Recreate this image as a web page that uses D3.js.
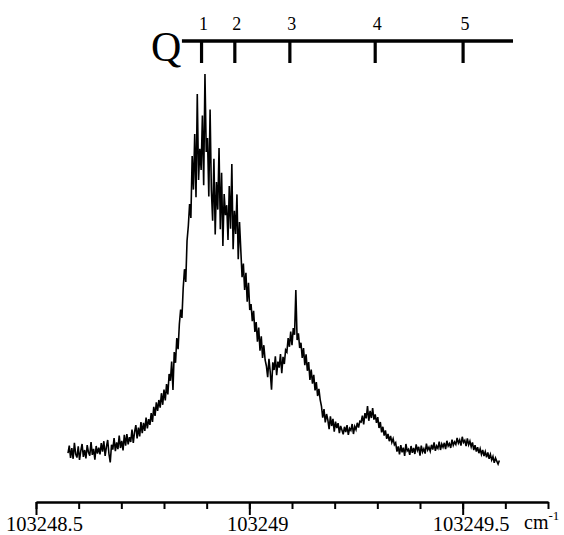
<!DOCTYPE html>
<html>
<head>
<meta charset="utf-8">
<script src="https://cdn.jsdelivr.net/npm/d3@7"></script>
<style>
  body { margin: 0; background: #fff; }
  svg { display: block; font-family: "Liberation Serif", "Times New Roman", serif; }
</style>
</head>
<body>
<div id="chart"></div>
<script>
// spectrum: evenly spaced wavenumbers, intensity in arbitrary units
var wnStart = 103248.575,
    wnStep = 0.003;
var intensity = [
  4.2, 6.1, 3.0, 5.5, 2.8, 6.8, 4.0, 3.1, 5.9, 2.5, 4.8, 6.5, 3.3, 5.0, 2.9, 6.2, 4.4, 3.6, 7.0, 3.8, 5.3, 2.6, 6.0, 4.1, 5.6,
  3.9, 6.7, 4.6, 7.2, 3.5, 5.8, 7.5, 4.0, 1.9, 6.3, 5.1, 8.0, 4.7, 6.9, 5.2, 8.6, 5.5, 7.3, 4.9, 8.8, 6.1, 9.0, 6.4, 8.2,
  7.0, 10.1, 6.8, 9.5, 11.2, 7.9, 10.6, 8.4, 12.0, 9.2, 11.8, 9.8, 13.1, 10.4, 12.7, 11.3,
  14.2, 12.0, 15.8, 13.5, 16.9, 14.8, 17.5, 15.6, 19.2, 16.3, 20.1, 17.4,
  21.5, 18.9, 24.0, 22.3, 27.1, 20.0, 29.5, 26.8, 33.0, 30.2, 36.5, 40.1,
  38.0, 45.5, 50.2, 47.0, 57.3, 61.0, 66.5,
  63.0, 78.5, 70.1, 84.0, 68.2, 94.0, 72.5, 80.3,
  75.0, 88.6, 71.2, 99.0, 79.5, 83.0, 68.4, 90.1,
  70.0, 62.3, 77.8, 58.9, 72.0, 65.1, 80.5, 60.2, 74.3, 56.0, 69.0, 63.7,
  66.2, 57.5, 71.0, 60.3, 76.5, 55.2, 64.8, 59.0, 68.9, 52.7, 62.0,
  55.0, 48.2, 51.6, 45.0, 49.3, 42.1, 46.8, 40.0,
  41.5, 37.2, 39.8, 34.5, 37.0, 32.1, 35.6, 29.8, 33.4, 28.0, 31.2, 27.5,
  26.0, 23.2, 27.8, 24.5, 20.1, 26.9, 25.0, 28.4, 23.7, 27.1, 25.6, 29.0, 24.2, 28.3, 26.5, 30.0,
  29.5, 33.0, 30.8, 34.6, 31.2, 35.5, 33.8, 45.0, 32.5, 34.2, 30.5,
  31.8, 28.0, 30.5, 26.2, 28.9, 24.8, 27.0, 22.5, 25.1, 21.6, 23.8, 19.9, 22.0, 18.5, 20.3, 17.6,
  16.0, 13.1, 15.2, 11.9, 14.0, 12.5, 10.2, 13.4, 11.0, 12.8, 9.6, 12.1, 10.5, 11.7, 9.2, 11.0, 10.0, 8.9, 10.8,
  9.5, 11.2, 8.8, 10.4, 9.9, 11.5, 9.0, 10.9, 10.1, 11.8, 10.6, 12.2,
  12.0, 13.6, 11.4, 14.2, 12.9, 16.0, 12.3, 14.8, 13.0, 15.5, 12.6, 13.9, 11.8, 13.2,
  10.5, 12.0, 9.4, 10.8, 8.6, 9.9, 7.8, 9.0, 7.2, 8.5, 6.9, 7.8, 6.3,
  6.8, 4.6, 5.9, 3.9, 6.2, 4.4, 5.6, 3.5, 6.5, 4.8, 5.2, 3.8, 6.0, 4.3, 5.5, 4.0, 6.4, 4.9, 5.8, 3.6, 6.1, 4.5, 5.3, 4.1, 6.6, 5.0, 5.7, 4.7,
  6.3, 5.1, 6.9, 4.8, 6.0, 5.4, 7.1, 5.0, 6.5, 5.7, 6.8, 5.2, 7.3, 6.0, 6.6, 5.5, 7.6, 6.2, 7.0, 6.4, 8.0, 6.7, 7.5, 6.1, 8.3, 6.9, 7.4, 6.0, 7.9, 6.3, 7.2,
  5.8, 6.9, 5.0, 6.2, 4.6, 5.7, 4.2, 5.3, 3.9, 5.0, 3.5, 4.6, 3.2, 4.4, 2.8, 3.9, 2.5, 3.4, 1.8, 3.0, 2.2, 1.5, 2.4
];

// bottom axis
var majorTicks = [103248.5, 103249, 103249.5];
var minorTicks = [103248.5, 103248.6, 103248.7, 103248.8, 103248.9, 103249, 103249.1,
                  103249.2, 103249.3, 103249.4, 103249.5, 103249.6, 103249.7];
var majorLabels = ["103248.5", "103249", "103249.5"];

// Q branch markers
var qLabels = ["1", "2", "3", "4", "5"];
var qPositions = [103248.888, 103248.966, 103249.095, 103249.295, 103249.501];
var qLineRange = [103248.842, 103249.618];

var width = 564, height = 535;

var svg = d3.select("#chart").append("svg")
    .attr("width", width)
    .attr("height", height);

var x = d3.scaleLinear()
    .domain([103248.5, 103249.7])
    .range([36, 548]);

var y = d3.scaleLinear()
    .domain([0, 100])
    .range([470, 70]);

// spectrum trace
var line = d3.line()
    .x(function(d, i) { return x(wnStart + i * wnStep); })
    .y(function(d) { return y(d); });

svg.append("path")
    .datum(intensity)
    .attr("d", line)
    .attr("fill", "none")
    .attr("stroke", "#000")
    .attr("stroke-width", 1.6)
    .attr("stroke-linejoin", "miter");

// bottom axis: minor ticks first, then major ticks with labels
var axisY = 502;

var minorAxis = d3.axisBottom(x)
    .tickValues(minorTicks)
    .tickSize(7)
    .tickSizeOuter(0)
    .tickFormat("");

var majorAxis = d3.axisBottom(x)
    .tickValues(majorTicks)
    .tickSize(13)
    .tickSizeOuter(0)
    .tickPadding(1)
    .tickFormat(function(d, i) { return majorLabels[i]; });

var gMinor = svg.append("g")
    .attr("transform", "translate(0," + axisY + ")")
    .call(minorAxis);
var gMajor = svg.append("g")
    .attr("transform", "translate(0," + axisY + ")")
    .call(majorAxis);

[gMinor, gMajor].forEach(function(g) {
    g.select(".domain").attr("stroke", "#000").attr("stroke-width", 2);
    g.selectAll(".tick line").attr("stroke", "#000").attr("stroke-width", 2);
});
gMajor.selectAll(".tick text")
    .attr("fill", "#000")
    .attr("dx", 8)
    .style("font-family", "'Liberation Serif', 'Times New Roman', serif")
    .style("font-size", "20.5px");

// unit label
var unit = svg.append("text")
    .attr("x", 524)
    .attr("y", axisY + 27)
    .style("font-size", "20px");
unit.append("tspan").text("cm");
unit.append("tspan").attr("dy", -9).style("font-size", "13px").text("-1");

// top Q scale
var qY = 41;
svg.append("line")
    .attr("x1", x(qLineRange[0])).attr("x2", x(qLineRange[1]))
    .attr("y1", qY).attr("y2", qY)
    .attr("stroke", "#000")
    .attr("stroke-width", 3.5);

svg.selectAll("line.qtick")
    .data(qPositions)
    .enter().append("line")
    .attr("class", "qtick")
    .attr("x1", function(d) { return x(d); })
    .attr("x2", function(d) { return x(d); })
    .attr("y1", qY)
    .attr("y2", 63)
    .attr("stroke", "#000")
    .attr("stroke-width", 3.2);

svg.selectAll("text.qlabel")
    .data(qPositions)
    .enter().append("text")
    .attr("class", "qlabel")
    .attr("x", function(d) { return x(d) + 2; })
    .attr("y", 30)
    .attr("text-anchor", "middle")
    .style("font-size", "18px")
    .text(function(d, i) { return qLabels[i]; });

svg.append("text")
    .attr("x", 151)
    .attr("y", 61)
    .style("font-size", "42px")
    .text("Q");
</script>
</body>
</html>
